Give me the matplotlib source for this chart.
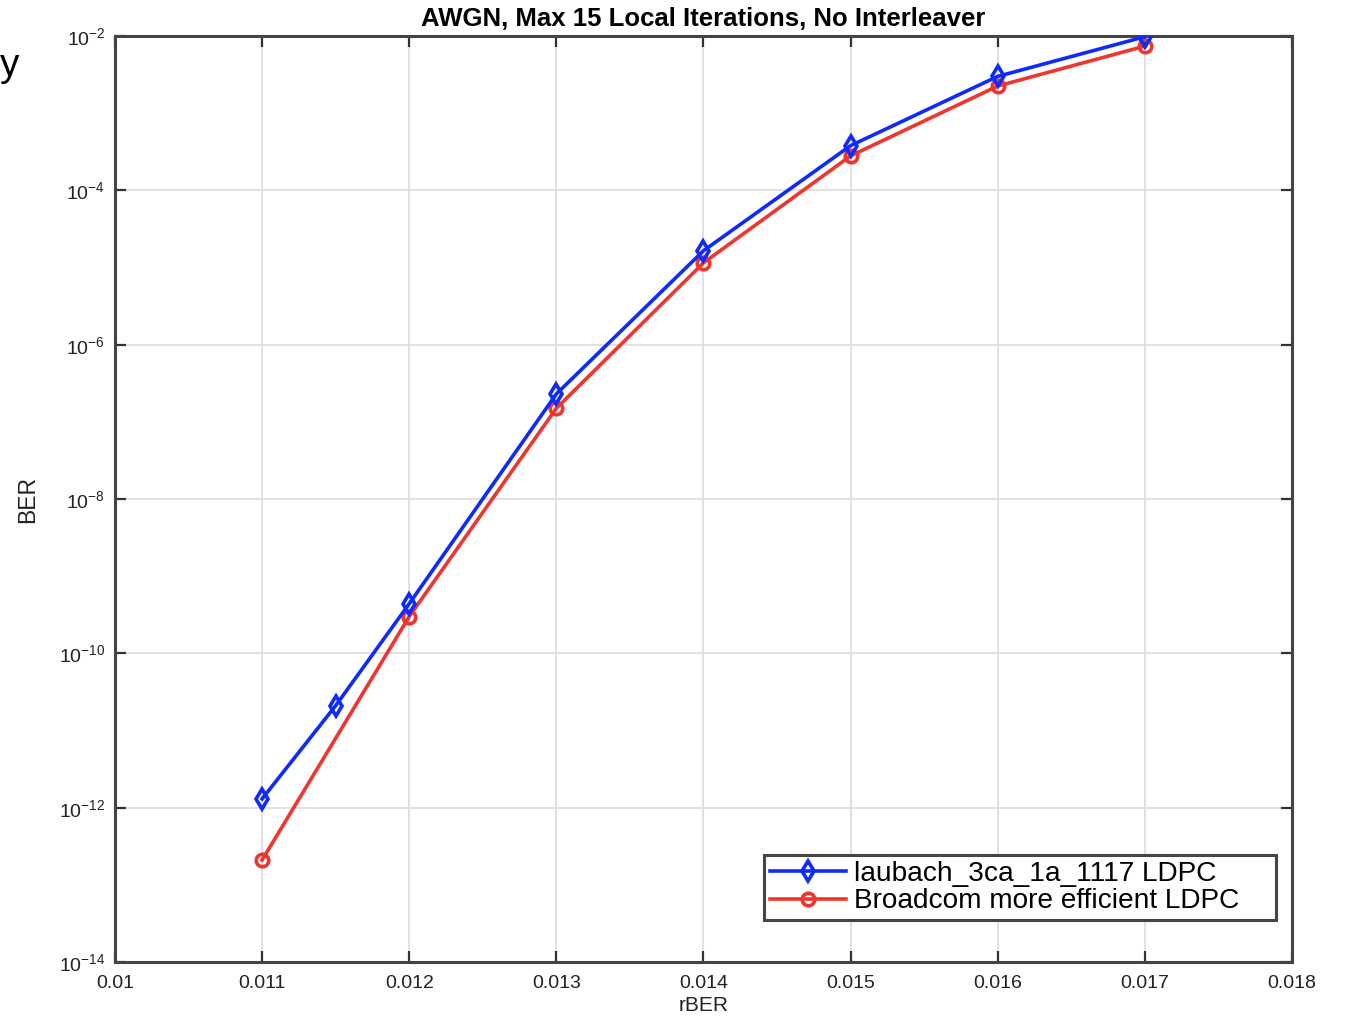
import matplotlib.pyplot as plt
from matplotlib import font_manager

plt.rcParams['font.family'] = ['Liberation Sans', 'DejaVu Sans']

# tick labels in the reference look condensed; use the narrow face if it is there
installed = {f.name for f in font_manager.fontManager.ttflist}
if 'Liberation Sans Narrow' in installed:
    tick_font, tick_size = 'Liberation Sans Narrow', 16
else:
    tick_font, tick_size = 'Liberation Sans', 14
plt.rcParams['mathtext.fontset'] = 'custom'
plt.rcParams['mathtext.rm'] = tick_font
plt.rcParams['mathtext.default'] = 'regular'

# rBER values and BER for the two codes
rber_laubach = [0.011, 0.0115, 0.012, 0.013, 0.014, 0.015, 0.016, 0.017]
ber_laubach = [1.3e-12, 2.1e-11, 4.4e-10, 2.3e-7, 1.65e-5, 3.8e-4, 3.0e-3, 9.8e-3]
rber_broadcom = [0.011, 0.012, 0.013, 0.014, 0.015, 0.016, 0.017]
ber_broadcom = [2.1e-13, 3.0e-10, 1.5e-7, 1.15e-5, 2.8e-4, 2.25e-3, 7.4e-3]

x_ticks = [0.01, 0.011, 0.012, 0.013, 0.014, 0.015, 0.016, 0.017, 0.018]
y_exps = [-14, -12, -10, -8, -6, -4, -2]

fig = plt.figure(figsize=(13.46, 10.18), dpi=100)
ax = fig.add_axes([0.0854, 0.055, 0.8745, 0.9096])

ax.plot(rber_laubach, ber_laubach, color='#0f2aff', lw=2.6, marker='d',
        ms=10, mfc='none', mew=2.6, label='laubach_3ca_1a_1117 LDPC    ', zorder=4)
ax.plot(rber_broadcom, ber_broadcom, color='#f0352e', lw=2.6, marker='o',
        ms=9, mfc='none', mew=2.6, label='Broadcom more efficient LDPC    ', zorder=3)

ax.set_yscale('log')
ax.set_xlim(0.01, 0.018)
ax.set_ylim(1e-14, 1e-2)
ax.set_xticks(x_ticks)
ax.set_xticklabels([('%g' % v) for v in x_ticks], family=tick_font)
ax.set_yticks([10.0 ** e for e in y_exps])
ax.set_yticklabels(['$10^{%d}$' % e for e in y_exps], family=tick_font)
ax.yaxis.set_minor_locator(plt.NullLocator())

ax.grid(True, color='#dcdcdc', lw=1.2)
ax.set_axisbelow(True)
ax.tick_params(direction='in', length=8, width=1.6, color='#333333',
               top=True, right=True, labelsize=tick_size, labelcolor='#222222')
ax.tick_params(axis='x', pad=9)
ax.tick_params(axis='y', pad=7)
for s in ax.spines.values():
    s.set_color('#444444')
    s.set_linewidth(2.2)

ax.set_title('AWGN, Max 15 Local Iterations, No Interleaver',
             fontsize=18.5, fontweight='bold', pad=7)
ax.set_xlabel('rBER', fontsize=15, labelpad=3, color='#222222')
ax.set_ylabel('BER', fontsize=16.5, labelpad=14, color='#222222')

leg = ax.legend(loc='lower right', bbox_to_anchor=(0.9864, 0.0454), fontsize=20.2,
                fancybox=False, framealpha=1, edgecolor='#444444',
                handlelength=2.7, borderpad=0.2, labelspacing=0.05,
                handletextpad=0.3, borderaxespad=0)
leg.get_frame().set_linewidth(2.2)

fig.text(0.0, 0.925, 'y', fontsize=28)

fig.savefig('out.png', dpi=100)
